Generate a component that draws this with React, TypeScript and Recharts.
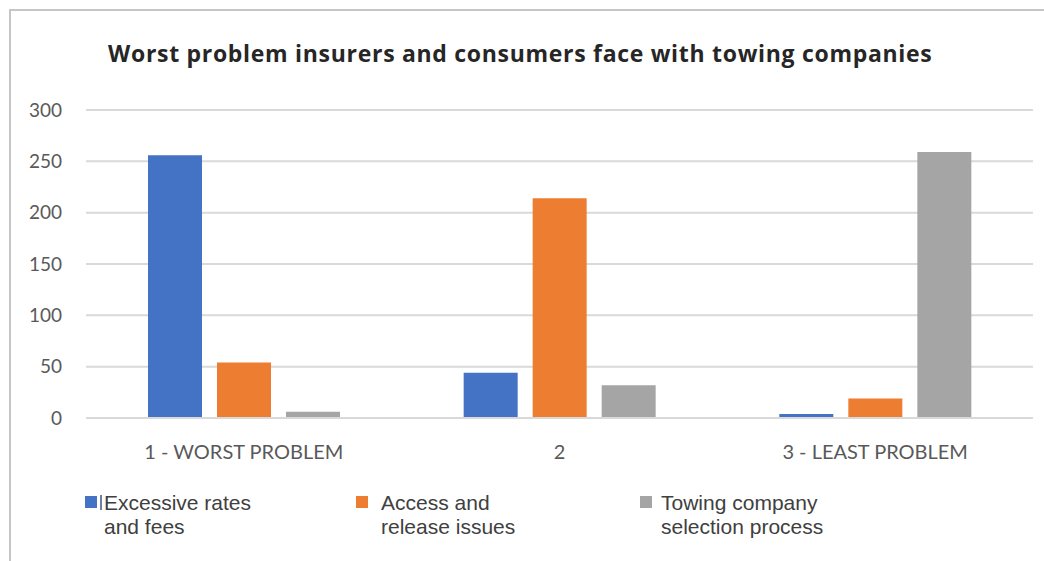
import { BarChart, Bar, XAxis, YAxis, CartesianGrid } from 'recharts'

const CATEGORIES = ['1 - WORST PROBLEM', '2', '3 - LEAST PROBLEM']
const EXCESSIVE = [256, 44, 4]
const ACCESS = [54, 214, 19]
const SELECTION = [6, 32, 259]
const Y_TICKS = [0, 50, 100, 150, 200, 250, 300]

const BLUE = '#4472c4'
const ORANGE = '#ed7d31'
const GREY = '#a5a5a5'

const data = CATEGORIES.map((c, i) => ({
  cat: c,
  excessive: EXCESSIVE[i],
  access: ACCESS[i],
  selection: SELECTION[i],
}))

const Y_TICK_STYLE = { fontSize: 19, fill: '#595959', fontFamily: 'Lato, sans-serif' }
const X_TICK_STYLE = { fontSize: 20, fill: '#595959', fontFamily: 'Lato, sans-serif' }

// legend drawn by hand so it can sit in two lines like the original
const LEGEND = [
  { color: BLUE, lines: ['Excessive rates', 'and fees'], left: 85, textGap: 7, bar: true },
  { color: ORANGE, lines: ['Access and', 'release issues'], left: 356, textGap: 13, bar: false },
  { color: GREY, lines: ['Towing company', 'selection process'], left: 640, textGap: 9, bar: false },
]

export default function App() {
  return (
    <div style={{ position: 'absolute', left: 0, top: 0, width: 1044, height: 561, background: '#fff', overflow: 'hidden' }}>
      {/* frame */}
      <div style={{ position: 'absolute', left: 9, top: 9, width: 1100, height: 600, borderTop: '2px solid #c6c6c6', borderLeft: '2px solid #c6c6c6' }} />

      <div style={{
        position: 'absolute', left: 108, top: 37, whiteSpace: 'nowrap',
        fontFamily: '"Open Sans", sans-serif', fontWeight: 700, fontSize: 23, letterSpacing: 0.7, color: '#262626',
      }}>
        Worst problem insurers and consumers face with towing companies
      </div>

      <div style={{ position: 'absolute', left: 0, top: 0 }}>
        <BarChart width={1044} height={561} data={data} margin={{ top: 110, right: 11, bottom: 0, left: 0 }} barSize={54} barGap={15}>
          <CartesianGrid vertical={false} stroke="#d9d9d9" strokeWidth={2} />
          <XAxis dataKey="cat" height={143} axisLine={{ stroke: '#d9d9d9', strokeWidth: 2 }} tickLine={false} tick={X_TICK_STYLE} tickMargin={21} interval={0} />
          <YAxis width={86} domain={[0, 300]} ticks={Y_TICKS} axisLine={false} tickLine={false} tick={Y_TICK_STYLE} tickMargin={18} />
          <Bar dataKey="excessive" fill={BLUE} isAnimationActive={false} />
          <Bar dataKey="access" fill={ORANGE} isAnimationActive={false} />
          <Bar dataKey="selection" fill={GREY} isAnimationActive={false} />
        </BarChart>
      </div>

      {LEGEND.map((item) => (
        <div key={item.lines[0]} style={{ position: 'absolute', left: item.left, top: 496, display: 'flex', alignItems: 'flex-start' }}>
          <div style={{ width: 12, height: 12, background: item.color }} />
          {item.bar && <div style={{ width: 2, height: 15, background: '#6b7fa8', marginLeft: 3, marginTop: -1 }} />}
          <div style={{
            marginLeft: item.bar ? 2 : item.textGap, marginTop: -5,
            fontFamily: '"Liberation Sans", Arial, sans-serif', fontSize: 21, lineHeight: '24px', color: '#404040',
          }}>
            {item.lines.map((l) => <div key={l}>{l}</div>)}
          </div>
        </div>
      ))}
    </div>
  )
}
